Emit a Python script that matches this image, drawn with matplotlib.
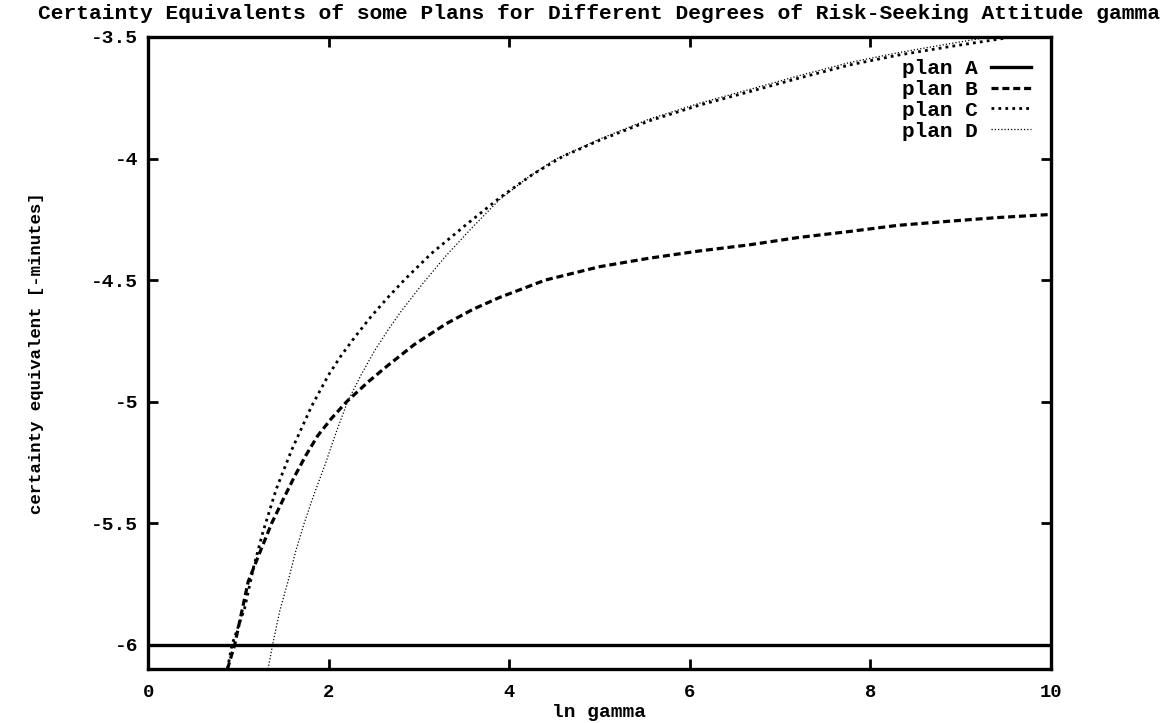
import matplotlib
matplotlib.use('Agg')
import matplotlib.pyplot as plt
import numpy as np

plt.rcParams['font.family'] = ['Liberation Mono', 'DejaVu Sans Mono']
plt.rcParams['font.weight'] = 'bold'

# values
x_a = [0.0, 10.0]
y_a = [-6.0, -6.0]

x_b = [0.88, 0.96, 1.11, 1.25, 1.37, 1.50, 1.62, 1.75, 1.88, 2.03, 2.20, 2.45, 2.66, 2.95, 3.30, 3.60, 3.89, 4.40, 5.00, 5.55, 6.11, 6.66, 7.20, 7.77, 8.30, 8.87, 9.40, 10.0]
y_b = [-6.10, -6.00, -5.74, -5.61, -5.50, -5.40, -5.31, -5.22, -5.14, -5.07, -5.00, -4.915, -4.85, -4.765, -4.68, -4.62, -4.572, -4.50, -4.445, -4.41, -4.38, -4.355, -4.325, -4.30, -4.275, -4.258, -4.243, -4.23]

x_c = [0.88, 0.93, 1.07, 1.17, 1.27, 1.42, 1.59, 1.81, 2.00, 2.14, 2.30, 2.47, 2.66, 2.85, 3.14, 3.53, 3.90, 4.26, 4.60, 5.00, 5.55, 6.11, 6.66, 7.20, 7.77, 8.30, 8.87, 9.40, 10.0]
y_c = [-6.10, -6.00, -5.85, -5.68, -5.54, -5.36, -5.20, -5.02, -4.89, -4.81, -4.73, -4.65, -4.57, -4.495, -4.39, -4.27, -4.16, -4.065, -3.99, -3.925, -3.845, -3.78, -3.725, -3.67, -3.615, -3.575, -3.54, -3.51, -3.475]

x_d = [1.33, 1.38, 1.46, 1.55, 1.64, 1.73, 1.84, 1.96, 2.08, 2.21, 2.36, 2.51, 2.65, 2.79, 3.03, 3.30, 3.60, 3.89, 4.20, 4.50, 5.00, 5.55, 6.11, 6.66, 7.20, 7.77, 8.30, 8.87, 9.40, 10.0]
y_d = [-6.10, -6.00, -5.86, -5.74, -5.61, -5.50, -5.38, -5.26, -5.13, -5.00, -4.89, -4.79, -4.71, -4.635, -4.52, -4.40, -4.28, -4.17, -4.08, -4.005, -3.92, -3.838, -3.772, -3.716, -3.66, -3.605, -3.565, -3.528, -3.495, -3.46]

fig = plt.figure(figsize=(11.72, 7.23), dpi=100)
ax = fig.add_axes([148/1172, 1 - 669/723, (1051-148)/1172, (669-37)/723])

ax.plot(x_a, y_a, color='k', lw=2.4, label='plan A')
ax.plot(x_b, y_b, color='k', lw=2.3, dashes=(2.2, 1.2), label='plan B')
ax.plot(x_c, y_c, color='k', lw=2.0, dashes=(1.0, 1.5), label='plan C')
ax.plot(x_d, y_d, color='k', lw=0.9, dashes=(1.0, 1.6), label='plan D')

ax.set_xlim(0, 10)
ax.set_ylim(-6.1, -3.5)
ax.set_xticks(np.arange(0, 11, 2))
ax.set_yticks([-6, -5.5, -5, -4.5, -4, -3.5])
ax.set_yticklabels(['-6', '-5.5', '-5', '-4.5', '-4', '-3.5'])
ax.tick_params(direction='in', length=7, width=2, top=True, right=True,
               labelsize=14, pad=7)
ax.tick_params(axis='x', labelsize=13.5, pad=11)
for s in ax.spines.values():
    s.set_linewidth(2.4)

ax.set_title('Certainty Equivalents of some Plans for Different Degrees of Risk-Seeking Attitude gamma',
             fontsize=15.3, fontweight='bold', pad=13)
ax.set_xlabel('ln gamma', fontsize=14, fontweight='bold', labelpad=2)
ax.set_ylabel('certainty equivalent [-minutes]', fontsize=12.5, fontweight='bold', labelpad=34)

ax.legend(loc='upper right', bbox_to_anchor=(1031/1172, 1 - 59/723), bbox_transform=fig.transFigure,
          markerfirst=False, frameon=False, fontsize=15.2, labelspacing=0.09,
          handlelength=1.9, handletextpad=0.6, borderpad=0, borderaxespad=0)

fig.savefig('out.png', dpi=100)
